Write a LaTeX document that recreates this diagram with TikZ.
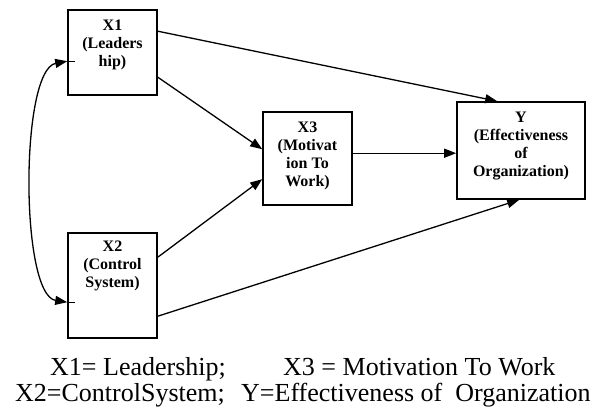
\documentclass[tikz,border=0pt]{standalone}
\usepackage{fontspec}
\setmainfont{Liberation Serif}
\usetikzlibrary{arrows.meta, calc, positioning}

\tikzset{
  box/.style={draw, line width=1.6pt, inner sep=0pt},
  boxtxt/.style={inner sep=0pt, align=center, font=\fontsize{16}{18}\selectfont\bfseries},
  legtxt/.style={inner sep=0pt, anchor=base west, font=\fontsize{26}{28}\selectfont},
  conn/.style={line width=1.3pt, -{Triangle[length=12pt,width=9pt]}},
}

\begin{document}
\begin{tikzpicture}[x=1pt,y=-1pt]
  \useasboundingbox (0,0) rectangle (608,414);
  % boxes
  \node[box, minimum width=89pt, minimum height=85pt] (x1) at (112.5,52.5) {};
  \node[box, minimum width=89pt, minimum height=105pt] (x2) at (112.5,285.5) {};
  \node[box, minimum width=89pt, minimum height=93pt] (x3) at (307.5,158.5) {};
  \node[box, minimum width=128pt, minimum height=97pt] (y) at (521,150.5) {};
  \node[boxtxt, below=10.5pt of x1.north] (x1t) {X1\\(Leaders\\hip)};
  \node[boxtxt, below=9pt of x2.north] (x2t) {X2\\(Control\\System)};
  \node[boxtxt, below=10.5pt of x3.north] (x3t) {X3\\(Motivat\\ion To\\Work)};
  \node[boxtxt, below=10.5pt of y.north] (yt) {Y\\(Effectiveness\\of\\Organization)};
  % arrows
  \draw[conn] ($(x1.north east)+(0,22)$) -- ($(y.north west)+(41,0)$);
  \draw[conn] ($(x1.north east)+(0,68)$) -- ($(x3.north west)+(0,38)$);
  \draw[conn] ($(x2.north east)+(0,25)$) -- ($(x3.north west)+(0,68)$);
  \draw[conn] ($(x2.north east)+(0,84)$) -- ($(y.south west)+(63,0)$);
  \coordinate (x3o) at ($(x3.north east)+(0,42)$);
  \draw[conn] (x3o) -- (x3o -| y.west);
  % correlation
  \coordinate (c1) at ($(x1.north west)+(0,52)$);
  \coordinate (c2) at ($(x2.north west)+(0,70)$);
  \draw[line width=1.3pt, {Triangle[length=12pt,width=9pt]}-{Triangle[length=12pt,width=9pt]}]
    (c1) .. controls (20,70) and (20,295) .. (c2);
  \draw[line width=1.3pt] (c1) -- ++(8,0);
  \draw[line width=1.3pt] (c2) -- ++(8,0);
  % legend
  \node[legtxt] (l1) at (50,375) {X1= Leadership;};
  \node[legtxt] (l3) at (283,375) {X3 = Motivation To Work};
  \node[legtxt] (l2) at (15,401) {X2=ControlSystem;};
  \node[legtxt] (l4) at (241,401) {Y=Effectiveness of\ \ Organization};
\end{tikzpicture}
\end{document}
